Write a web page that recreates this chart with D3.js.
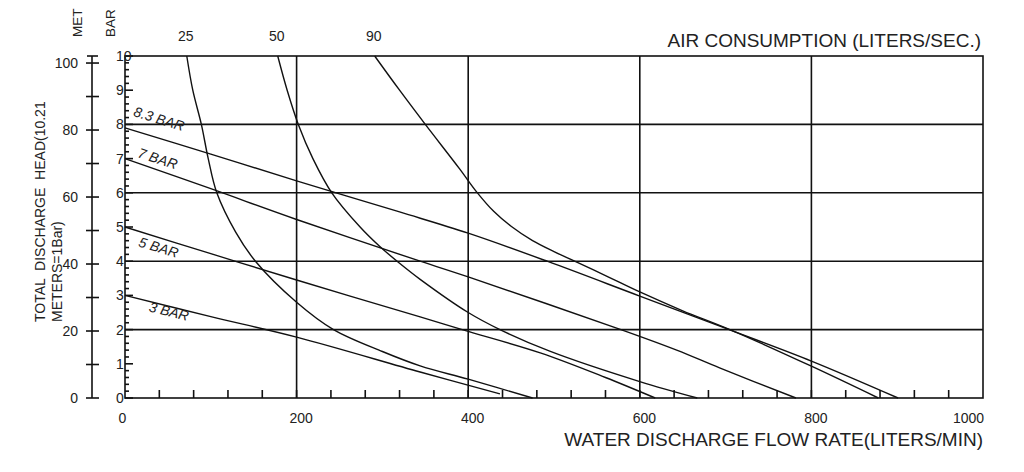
<!DOCTYPE html>
<html>
<head>
<meta charset="utf-8">
<script src="https://cdn.jsdelivr.net/npm/d3@7"></script>
<style>
  body { margin: 0; background: #fff; }
  svg { display: block; font-family: "Liberation Sans", Arial, sans-serif; }
  .frame { stroke: #111; stroke-width: 1.6; fill: none; }
  .curve { stroke: #111; stroke-width: 1.4; fill: none; }
  .tick-label { font-size: 14px; fill: #222; font-family: "Liberation Sans", Arial, sans-serif; }
</style>
</head>
<body>
<svg id="chart"></svg>
<script>
// ---- data ----
const flowTicks = [0, 200, 400, 600, 800, 1000];
const barTicks = [0, 1, 2, 3, 4, 5, 6, 7, 8, 9, 10];
const meterTicks = [0, 20, 40, 60, 80, 100];
const airLabels = ['25', '50', '90'];
const pressureLabels = ['8.3 BAR', '7 BAR', '5 BAR', '3 BAR'];

// pressure lines [flow L/min, head bar]
const bar83 = [[0, 7.9], [100, 7.13], [200, 6.35], [320, 5.44], [400, 4.82], [492, 4.0],
               [600, 2.98], [705, 1.99], [800, 1.08], [901, 0]];
const bar7 = [[0, 7.0], [100, 6.12], [200, 5.22], [344, 4.0], [400, 3.54], [578, 2.0],
              [643, 1.4], [693, 0.88], [782, 0]];
const bar5 = [[0, 5.0], [100, 4.22], [200, 3.45], [344, 2.37], [394, 1.99], [484, 1.32],
              [560, 0.6], [618, 0]];
const bar3 = [[0, 3.0], [100, 2.38], [200, 1.78], [344, 0.76], [437, 0.12]];

// air consumption curves (liters/sec)
const air25 = [[72, 10], [79, 9], [89, 8], [97, 7], [107, 6], [129, 4.85], [152, 4.0],
               [200, 2.8], [243, 2.0], [300, 1.36], [344, 0.94], [400, 0.55], [475, 0]];
const air50 = [[178, 10], [189, 9], [202, 8], [219, 7], [241, 6], [274, 5], [297, 4.43],
               [320, 3.94], [344, 3.47], [400, 2.5], [437, 2.0], [495, 1.37], [600, 0.48], [667, 0]];
const air90 = [[291, 10], [320, 9], [350, 8], [390, 6.7], [410, 6.02], [430, 5.45], [450, 5.02],
               [475, 4.6], [500, 4.28], [519, 4.06], [560, 3.58], [600, 3.1], [650, 2.55],
               [705, 2.0], [800, 0.93], [878, 0]];

const width = 1024, height = 472;

const svg = d3.select('#chart')
    .attr('width', width)
    .attr('height', height);

// scales: flow on x, bar and meters share the same vertical span
const xScale = d3.scaleLinear().domain([0, 1000]).range([125, 983]);
const yScale = d3.scaleLinear().domain([0, 10]).range([398, 56]);
const metScale = d3.scaleLinear().domain([0, 102.1]).range([398, 56]);

// grid
const grid = svg.append('g');
grid.selectAll('.hgrid')
    .data([2, 4, 6, 8])
  .join('line')
    .attr('class', 'frame')
    .attr('x1', xScale(0)).attr('x2', xScale(1000))
    .attr('y1', d => yScale(d)).attr('y2', d => yScale(d));
grid.selectAll('.vgrid')
    .data([200, 400, 600, 800])
  .join('line')
    .attr('class', 'frame')
    .attr('x1', d => xScale(d)).attr('x2', d => xScale(d))
    .attr('y1', yScale(0)).attr('y2', yScale(10));
grid.append('rect')
    .attr('class', 'frame')
    .attr('x', xScale(0)).attr('y', yScale(10))
    .attr('width', xScale(1000) - xScale(0))
    .attr('height', yScale(0) - yScale(10));

// x axis: inner ticks every 40, labels every 200
grid.selectAll('.xtick')
    .data(d3.range(40, 1000, 40))
  .join('line')
    .attr('class', 'frame')
    .attr('x1', d => xScale(d)).attr('x2', d => xScale(d))
    .attr('y1', yScale(0)).attr('y2', yScale(0) - 8);
const xAxis = d3.axisBottom(xScale)
    .tickValues(flowTicks)
    .tickFormat(d3.format('d'))
    .tickSize(0).tickPadding(0);
const xAxisG = svg.append('g')
    .attr('transform', `translate(0,${yScale(0)})`)
    .call(xAxis)
    .call(g => g.select('.domain').remove());
xAxisG.selectAll('text')
    .attr('class', 'tick-label')
    .attr('y', 25).attr('dy', 0)
    .attr('dx', d => d === 0 ? -3 : d === 1000 ? -15 : 4);

// bar axis on the left edge of the plot
grid.selectAll('.bartick')
    .data(d3.range(0, 10.01, 0.2))
  .join('line')
    .attr('class', 'frame')
    .attr('x1', xScale(0))
    .attr('x2', d => xScale(0) + (Math.abs(d - Math.round(d)) < 0.01 ? 8 : 4))
    .attr('y1', d => yScale(d)).attr('y2', d => yScale(d));
svg.selectAll('.barlabel')
    .data(barTicks)
  .join('text')
    .attr('class', 'tick-label')
    .attr('x', xScale(0) - 9)
    .attr('y', d => yScale(d) + 5)
    .text(d => d);

// meters axis
const metX = 92;
svg.append('line')
    .attr('class', 'frame')
    .attr('x1', metX).attr('x2', metX)
    .attr('y1', metScale(0)).attr('y2', yScale(10));
svg.selectAll('.mettick')
    .data(d3.range(0, 101, 10))
  .join('line')
    .attr('class', 'frame')
    .attr('x1', metX - 6).attr('x2', metX + 7)
    .attr('y1', d => metScale(d)).attr('y2', d => metScale(d));
svg.append('line')
    .attr('class', 'frame')
    .attr('x1', metX - 5).attr('x2', metX + 6)
    .attr('y1', yScale(10)).attr('y2', yScale(10));
svg.selectAll('.metlabel')
    .data(meterTicks)
  .join('text')
    .attr('class', 'tick-label')
    .attr('x', metX - 14)
    .attr('y', d => metScale(d) + 5)
    .attr('text-anchor', 'end')
    .text(d => d);

// curves
const line = d3.line()
    .x(d => xScale(d[0]))
    .y(d => yScale(d[1]))
    .curve(d3.curveCatmullRom.alpha(0.5));
svg.append('g')
    .selectAll('path')
    .data([bar83, bar7, bar5, bar3, air25, air50, air90])
  .join('path')
    .attr('class', 'curve')
    .attr('d', line);

// pressure line labels, tilted along each line
const pressureSpots = [[9, 8.25, 17], [14, 7.05, 18], [15, 4.44, 17], [27, 2.54, 14]];
svg.selectAll('.plabel')
    .data(pressureLabels)
  .join('text')
    .attr('font-size', 14)
    .attr('font-style', 'italic')
    .attr('fill', '#222')
    .attr('transform', (d, i) => {
      const p = pressureSpots[i];
      return `translate(${xScale(p[0])},${yScale(p[1])}) rotate(${p[2]})`;
    })
    .text(d => d);

// air consumption labels on top of each curve
const airTops = [air25, air50, air90].map(a => a[0][0]);
svg.selectAll('.alabel')
    .data(airLabels)
  .join('text')
    .attr('class', 'tick-label')
    .attr('text-anchor', 'middle')
    .attr('x', (d, i) => xScale(airTops[i]) - 1)
    .attr('y', 41)
    .text(d => d);

// titles
svg.append('text')
    .attr('x', 981).attr('y', 47)
    .attr('text-anchor', 'end')
    .attr('font-size', 19)
    .attr('fill', '#222')
    .text('AIR CONSUMPTION (LITERS/SEC.)');
svg.append('text')
    .attr('x', 983).attr('y', 446)
    .attr('text-anchor', 'end')
    .attr('font-size', 19)
    .attr('fill', '#222')
    .text('WATER DISCHARGE FLOW RATE(LITERS/MIN)');

const yTitles = [['TOTAL  DISCHARGE  HEAD(10.21', 45], ['METERS=1Bar)', 62]];
svg.selectAll('.ytitle')
    .data(yTitles)
  .join('text')
    .attr('font-size', 14)
    .attr('fill', '#222')
    .style('white-space', 'pre')
    .attr('transform', d => `translate(${d[1]},322) rotate(-90)`)
    .text(d => d[0]);

svg.selectAll('.unit')
    .data([['MET', 82], ['BAR', 115]])
  .join('text')
    .attr('font-size', 13.5)
    .attr('fill', '#222')
    .attr('transform', d => `translate(${d[1]},37) rotate(-90)`)
    .text(d => d[0]);
</script>
</body>
</html>
